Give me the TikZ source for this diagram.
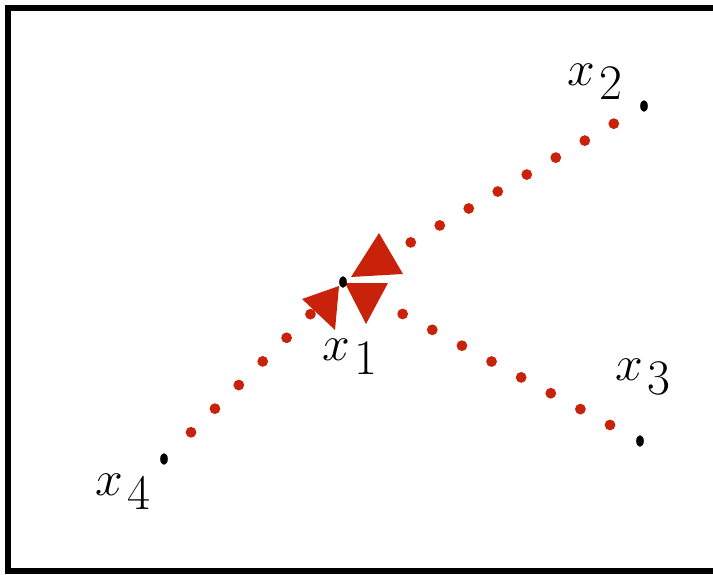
\documentclass[tikz,border=0pt]{standalone}
\usepackage{amsmath}
\usepackage{amsfonts}
\usepackage{xcolor}
\usetikzlibrary{arrows.meta, positioning, calc}
\definecolor{dotred}{RGB}{200,35,10}
\DeclareMathSizes{31}{31}{25}{18}
\newcommand{\xlab}[1]{$x_{\hspace{2pt}\raisebox{-3pt}{$\scriptstyle #1$}}$}

\tikzset{
  reddots/.style={draw=dotred, line width=5.4pt, line cap=round, dash pattern=on 0pt off 16.8pt},
  lbl/.style={inner sep=0pt, anchor=base west, font=\fontsize{31}{31}\selectfont},
  tip/.style={fill=dotred}
}

\begin{document}
\begin{tikzpicture}[x=0.5pt, y=-0.5pt]
\useasboundingbox (0,0) rectangle (713,574);
\draw[line width=3pt] (8,8) rectangle (740,571);

% points
\coordinate (x1) at (343,282);
\coordinate (x2) at (644,106);
\coordinate (x3) at (640,441);
\coordinate (x4) at (164,459);

% dotted connectors
\draw[reddots, shorten <=17.5pt, shorten >=30pt] (x2) -- (x1);
\draw[reddots, shorten <=17pt, shorten >=28pt] (x3) -- (x1);
\draw[reddots, shorten <=19pt, shorten >=18pt] (x4) -- (x1);

% tips
\fill[tip] (379,233) -- (403,274) -- (351,277) -- cycle;
\fill[tip] (302,299) -- (339,286) -- (335,330) -- cycle;
\fill[tip] (345,283) -- (388,283) -- (366,324) -- cycle;

\foreach \p in {x1,x2,x3,x4}
  \fill (\p) ellipse [x radius=3.8, y radius=5.8];

% labels
\node[lbl] (l1) at (322,360) {\xlab{1}};
\node[lbl] (l2) at (567,85) {\xlab{2}};
\node[lbl] (l3) at (615,380) {\xlab{3}};
\node[lbl] (l4) at (95,495) {\xlab{4}};
\end{tikzpicture}
\end{document}
